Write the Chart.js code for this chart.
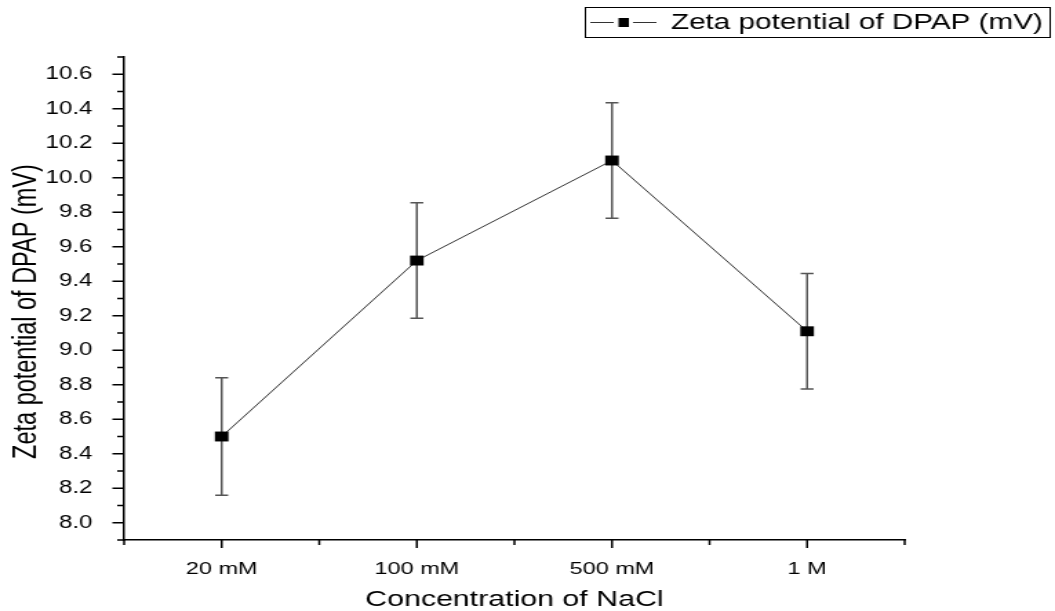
<!DOCTYPE html>
<html>
<head>
<meta charset="utf-8">
<title>Zeta potential of DPAP</title>
<script src="https://cdn.jsdelivr.net/npm/chart.js@4.4.1/dist/chart.umd.min.js"></script>
<style>
  html, body { margin: 0; padding: 0; background: #ffffff; }
</style>
</head>
<body>
<!-- the source image is stretched sideways, so the canvas is drawn narrow and widened by css -->
<canvas id="zeta-chart" width="765" height="611" style="display:block;width:1055px;height:611px"></canvas>
<script>
// Values
const categories = ["20 mM", "100 mM", "500 mM", "1 M"];
const zetaValues = [8.50, 9.52, 10.10, 9.11];
const zetaErrors = [0.34, 0.335, 0.335, 0.335];
const yTicks = [8.0, 8.2, 8.4, 8.6, 8.8, 9.0, 9.2, 9.4, 9.6, 9.8, 10.0, 10.2, 10.4, 10.6];
const yMinorTicks = [7.9, 8.1, 8.3, 8.5, 8.7, 8.9, 9.1, 9.3, 9.5, 9.7, 9.9, 10.1, 10.3, 10.5, 10.7];

const FONT = "'Liberation Sans', Arial, sans-serif";
const SERIES_LABEL = "Zeta potential of DPAP (mV)";

const errorBars = {
  id: "errorBars",
  beforeDatasetsDraw(chart) {
    const { ctx, scales: { x, y } } = chart;
    ctx.save();
    ctx.strokeStyle = "#555555";
    ctx.lineWidth = 1.5;
    zetaValues.forEach((value, i) => {
      const px = x.getPixelForValue(i);
      const top = y.getPixelForValue(value + zetaErrors[i]);
      const bottom = y.getPixelForValue(value - zetaErrors[i]);
      ctx.beginPath();
      ctx.moveTo(px, top);
      ctx.lineTo(px, bottom);
      ctx.moveTo(px - 4.7, top);
      ctx.lineTo(px + 4.7, top);
      ctx.moveTo(px - 4.7, bottom);
      ctx.lineTo(px + 4.7, bottom);
      ctx.stroke();
    });
    ctx.restore();
  }
};

// major and minor tick marks, pointing out of the plot
const tickMarks = {
  id: "tickMarks",
  afterDraw(chart) {
    const { ctx, scales: { x, y } } = chart;
    ctx.save();
    ctx.strokeStyle = "#000000";
    ctx.lineWidth = 1.5;
    ctx.beginPath();
    yTicks.forEach(v => {
      const py = y.getPixelForValue(v);
      ctx.moveTo(y.right, py);
      ctx.lineTo(y.right - 8.5, py);
    });
    yMinorTicks.forEach(v => {
      const py = y.getPixelForValue(v);
      ctx.moveTo(y.right, py);
      ctx.lineTo(y.right - 5, py);
    });
    categories.forEach((c, i) => {
      const px = x.getPixelForValue(i);
      ctx.moveTo(px, x.top);
      ctx.lineTo(px, x.top + 8);
    });
    for (let i = 0; i <= categories.length; i++) {
      const px = x.getPixelForValue(i - 0.5);
      ctx.moveTo(px, x.top);
      ctx.lineTo(px, x.top + 5);
    }
    ctx.stroke();
    ctx.restore();
  }
};

const boxedLegend = {
  id: "boxedLegend",
  afterDraw(chart) {
    const { ctx } = chart;
    const label = chart.data.datasets[0].label;
    ctx.save();
    ctx.strokeStyle = "#000000";
    ctx.lineWidth = 1;
    ctx.strokeRect(424.5, 7.5, 337, 30);
    ctx.strokeStyle = "#333333";
    ctx.beginPath();
    ctx.moveTo(428, 22.5);
    ctx.lineTo(445, 22.5);
    ctx.moveTo(459, 22.5);
    ctx.lineTo(476, 22.5);
    ctx.stroke();
    ctx.fillStyle = "#000000";
    ctx.fillRect(448.5, 18, 7.5, 9);
    ctx.font = `21.5px ${FONT}`;
    ctx.textBaseline = "middle";
    ctx.fillText(label, 486.5, 23);
    ctx.restore();
  }
};

new Chart(document.getElementById("zeta-chart"), {
  type: "line",
  data: {
    labels: categories,
    datasets: [{
      label: SERIES_LABEL,
      data: zetaValues,
      borderColor: "#333333",
      borderWidth: 1,
      tension: 0,
      pointStyle: "rect",
      pointRadius: 7,
      pointHoverRadius: 7,
      pointBorderWidth: 0,
      pointBackgroundColor: "#000000"
    }]
  },
  options: {
    responsive: false,
    animation: false,
    events: [],
    layout: {
      padding: { top: 57, right: 109, left: 0, bottom: 0 }
    },
    plugins: {
      legend: { display: false },
      tooltip: { enabled: false }
    },
    scales: {
      x: {
        type: "category",
        offset: true,
        grid: { display: false },
        border: { display: true, color: "#000000", width: 1.5 },
        ticks: {
          color: "#000000",
          padding: 11,
          font: { family: FONT, size: 17 }
        },
        title: {
          display: true,
          text: "Concentration of NaCl",
          color: "#000000",
          padding: 0,
          font: { family: FONT, size: 22, lineHeight: 1 }
        },
        afterFit: scale => { scale.height = 71; }
      },
      y: {
        min: 7.9,
        max: 10.7,
        grid: { display: false },
        border: { display: true, color: "#000000", width: 1.5 },
        afterBuildTicks: scale => {
          scale.ticks = yTicks.map(v => ({ value: v }));
        },
        ticks: {
          color: "#000000",
          padding: 15,
          font: { family: FONT, size: 17.5 },
          callback: value => Number(value).toFixed(1)
        },
        title: {
          display: true,
          // trailing spaces push the title a little below the axis middle, as in the original
          text: SERIES_LABEL + "\u00a0\u00a0\u00a0\u00a0",
          color: "#000000",
          padding: { top: 5, bottom: 0 },
          font: { family: FONT, size: 23.5 }
        },
        afterFit: scale => { scale.width = 90; }
      }
    }
  },
  plugins: [errorBars, tickMarks, boxedLegend]
});
</script>
</body>
</html>
